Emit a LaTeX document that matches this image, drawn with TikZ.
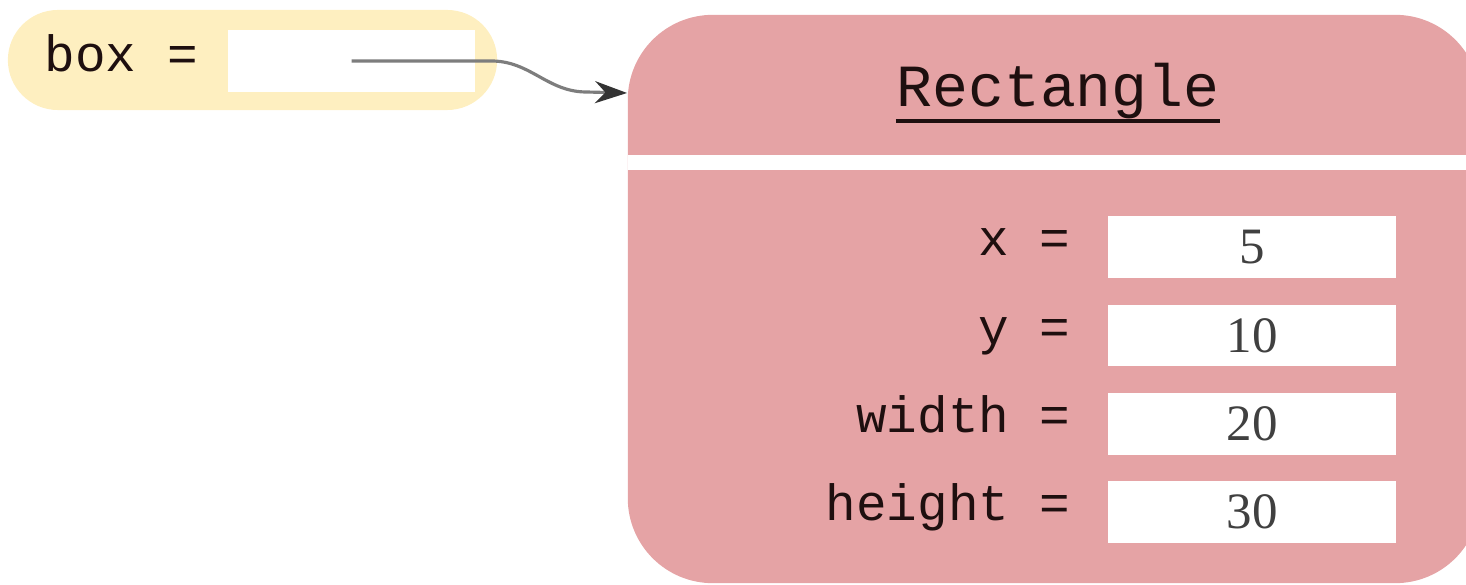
\documentclass[tikz,border=0pt]{standalone}
\usepackage{fontspec}
\setmainfont{Liberation Serif}
\setmonofont{Liberation Mono}
\usepackage{tikz}
\usetikzlibrary{arrows.meta, positioning, calc}
\definecolor{cYellow}{RGB}{254,239,192}
\definecolor{cPink}{RGB}{229,163,165}
\definecolor{cWire}{RGB}{125,125,125}
\definecolor{cInk}{RGB}{30,15,15}
\tikzset{
	varpill/.style ={rectangle, rounded corners=0.5cm, minimum width=4.89cm, minimum height=1.0cm, fill=cYellow, inner sep=0pt},
	slot/.style    ={rectangle, minimum width=2.47cm, minimum height=0.62cm, fill=white, inner sep=0pt},
	objbox/.style  ={rectangle, rounded corners=0.85cm, minimum width=8.52cm, minimum height=5.68cm, fill=cPink, inner sep=0pt},
	valbox/.style  ={rectangle, minimum width=2.88cm, minimum height=0.61cm, fill=white, inner sep=0pt, text=black!75, font=\fontsize{14.5}{17}\selectfont\rmfamily},
	fieldlbl/.style={inner sep=0pt, text=cInk, text height=1.6ex, text depth=0.5ex, font=\fontsize{14.5}{17}\selectfont\ttfamily},
	% pointer from variable to object
	ptr/.style     ={-{Stealth[length=3.2mm, width=2.2mm, color=black!80]}, line width=0.9pt, draw=cWire},
}
\begin{document}
\begin{tikzpicture}[x=0.01cm, y=-0.01cm]
	\useasboundingbox (0,0) rectangle (1466,585);
	% variable
	\node[varpill] (var) at (252.5,60) {};
	\node[slot] (slot) at (351.5,61) {};
	\node[fieldlbl, anchor=west] (boxlbl) at (44,63) {box =};
	% object
	\node[objbox] (obj) at (1054,299) {};
	\fill[white] (628,155) rectangle (1480,170);
	\node[inner sep=0pt, text=cInk, font=\fontsize{17}{20}\selectfont\ttfamily] (title) at (1058,91) {Rectangle};
	\draw[cInk, line width=1.2pt] ([yshift=-0.5pt]title.south west) -- ([yshift=-0.5pt]title.south east);
	\node[valbox] (vx) at (1252,247) {5};
	\node[valbox] (vy) at (1252,335.5) {10};
	\node[valbox] (vw) at (1252,424) {20};
	\node[valbox] (vh) at (1252,512) {30};
	\node[fieldlbl, left=0.36cm of vx] (lx) {x =};
	\node[fieldlbl, left=0.36cm of vy] (ly) {y =};
	\node[fieldlbl, left=0.36cm of vw] (lw) {width =};
	\node[fieldlbl, left=0.36cm of vh] (lh) {height =};
	\draw[ptr] (slot.center) -- ++(140,0) to[out=0, in=180] ++(95,31) -- (obj.west |- 0,93);
\end{tikzpicture}
\end{document}
